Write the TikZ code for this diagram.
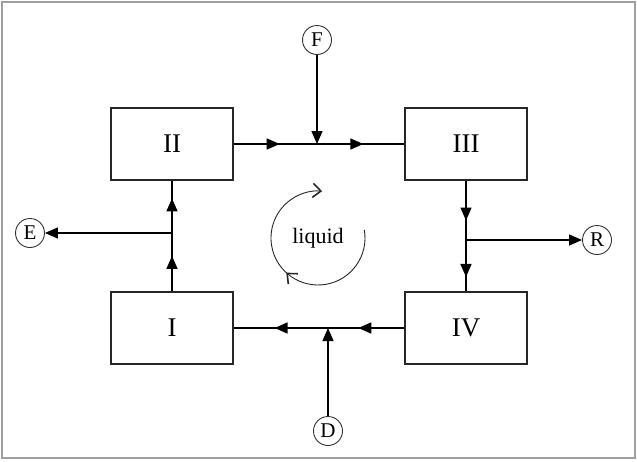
\documentclass[tikz,border=0pt]{standalone}
\usepackage{fontspec}
\setmainfont{Liberation Serif}
\usetikzlibrary{arrows.meta,decorations.markings}

\begin{document}
\begin{tikzpicture}[x=1pt, y=-1pt, >={Triangle[length=13pt,width=11pt]},
  unit/.style={draw=black!85, line width=1.3pt, minimum width=122pt,
    minimum height=72pt, inner sep=0pt, font=\fontsize{27}{30}\selectfont},
  port/.style={circle, draw=black!80, line width=0.9pt, minimum size=29pt,
    inner sep=0pt, font=\fontsize{21}{24}\selectfont},
  pipe/.style={line width=1.4pt},
  flow/.style 2 args={pipe, postaction={decorate}, decoration={markings,
    mark=at position #1 with {\arrow{>}},
    mark=at position #2 with {\arrow{>}}}},
  spin/.style={line width=0.9pt, black!85,
    -{Straight Barb[length=8pt,width=14pt,line width=1.6pt]},
    postaction={decorate}, decoration={markings,
    mark=at position 0.5 with {\arrow{Straight Barb[length=8pt,width=14pt,line width=1.6pt]}}}}]
  \useasboundingbox (0,0) rectangle (637,461);
  \draw[gray!75, line width=2.5pt] (2,2) rectangle (635,458);

  \node[unit] (ii) at (172,144) {II};
  \node[unit] (iii) at (466,144) {III};
  \node[unit] (i) at (172,328) {I};
  \node[unit] (iv) at (466,328) {IV};
  \node[port] (f) at (317,40) {F};
  \node[port] (e) at (30,233) {E};
  \node[port] (r) at (597,240) {R};
  \node[port] (d) at (328,431) {D};
  \node[font=\fontsize{22}{26}\selectfont] (liq) at (318,238) {liquid};

  \draw[flow={0.27}{0.76}] (ii.east) -- (iii.west);
  \draw[flow={0.36}{0.87}] (iii.south) -- (iv.north);
  \draw[flow={0.27}{0.76}] (iv.west) -- (i.east);
  \draw[flow={0.32}{0.84}] (i.north) -- (ii.south);

  \coordinate (jt) at (f |- ii.east);
  \coordinate (jr) at (iii.south |- r);
  \coordinate (jb) at (d |- i.east);
  \coordinate (jl) at (ii.south |- e);
  \draw[pipe, ->] (f) -- (jt);
  \draw[pipe, ->] (jr) -- (r);
  \draw[pipe, ->] (d) -- (jb);
  \draw[pipe, ->] (jl) -- (e);

  \draw[spin] (liq) ++(-10:47) arc[start angle=-10, end angle=275, radius=47];
\end{tikzpicture}
\end{document}
